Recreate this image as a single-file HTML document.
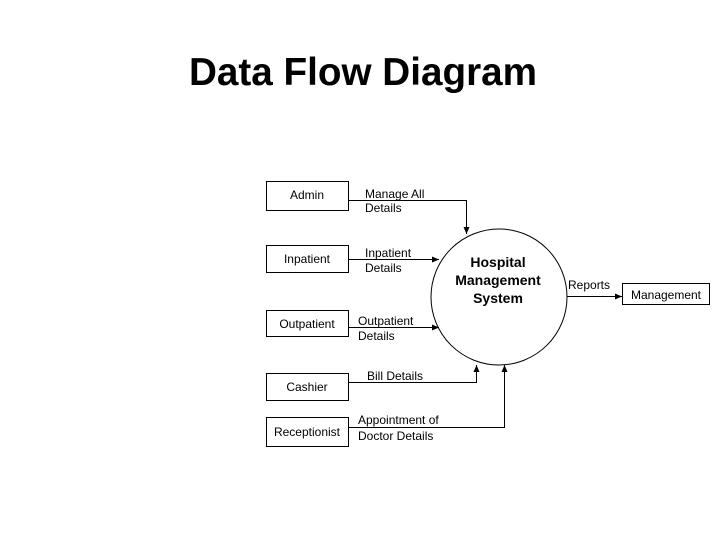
<!DOCTYPE html>
<html><head><style>
html,body{margin:0;padding:0;background:#fff;}
svg text{font-family:"Liberation Sans",Arial,sans-serif;}
</style></head><body>
<svg width="728" height="546" viewBox="0 0 728 546" xmlns="http://www.w3.org/2000/svg">
<defs><marker id="a" markerWidth="8" markerHeight="8" refX="7" refY="4" orient="auto" markerUnits="userSpaceOnUse"><path d="M0,1 L7,4 L0,7 Z" fill="#000"/></marker></defs>
<text x="189" y="85" font-size="39" font-weight="bold" textLength="348" lengthAdjust="spacingAndGlyphs">Data Flow Diagram</text>
<g fill="#fff" stroke="#000" stroke-width="1">
<rect x="266.5" y="181.5" width="82" height="29"/>
<rect x="266.5" y="245.5" width="82" height="27"/>
<rect x="266.5" y="310.5" width="82" height="26"/>
<rect x="266.5" y="373.5" width="82" height="27"/>
<rect x="266.5" y="417.5" width="82" height="29"/>
<rect x="622.5" y="283.5" width="87" height="21"/>
<circle cx="499" cy="297" r="68"/>
</g>
<g fill="none" stroke="#000" stroke-width="1">
<path d="M348 200.5 H466.5 V234" marker-end="url(#a)"/>
<path d="M348 259.5 H439" marker-end="url(#a)"/>
<path d="M348 327.5 H439" marker-end="url(#a)"/>
<path d="M348 382.5 H476.5 V365" marker-end="url(#a)"/>
<path d="M348 427.5 H504.5 V365" marker-end="url(#a)"/>
<path d="M567 296.5 H622" marker-end="url(#a)"/>
</g>
<g font-size="12" text-anchor="middle">
<text x="307" y="199">Admin</text>
<text x="307" y="263">Inpatient</text>
<text x="307" y="328">Outpatient</text>
<text x="307" y="391">Cashier</text>
<text x="307" y="436">Receptionist</text>
<text x="666" y="299">Management</text>
</g>
<g font-size="12">
<text x="365" y="198">Manage All</text>
<text x="365" y="212">Details</text>
<text x="365" y="257">Inpatient</text>
<text x="365" y="272">Details</text>
<text x="358" y="325">Outpatient</text>
<text x="358" y="340">Details</text>
<text x="367" y="380">Bill Details</text>
<text x="358" y="424">Appointment of</text>
<text x="358" y="440">Doctor Details</text>
<text x="568" y="289">Reports</text>
</g>
<g font-size="14" font-weight="bold" text-anchor="middle">
<text x="498" y="267">Hospital</text>
<text x="498" y="285">Management</text>
<text x="498" y="303">System</text>
</g>
</svg>
</body></html>
